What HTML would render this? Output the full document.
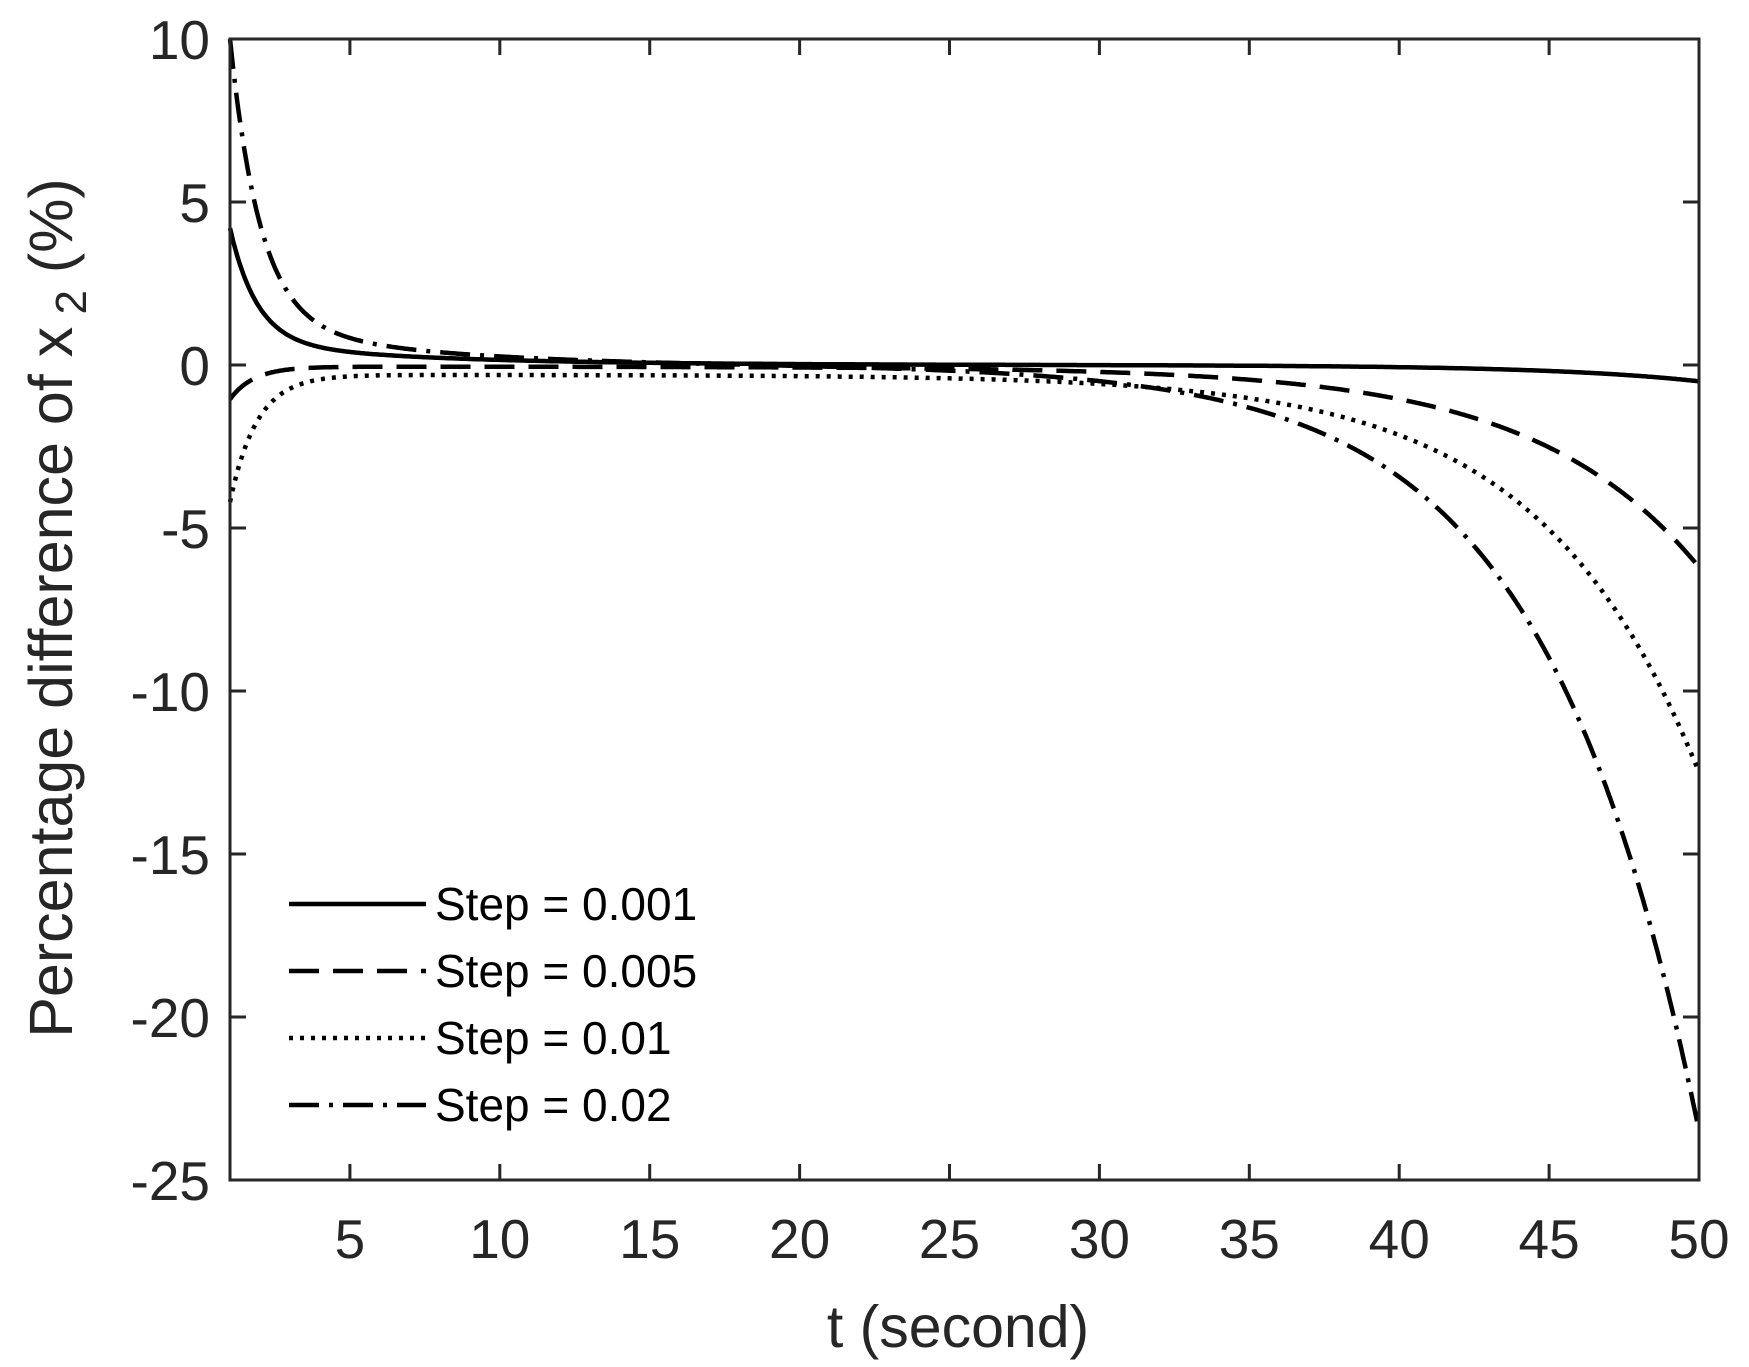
<!DOCTYPE html>
<html><head><meta charset="utf-8"><style>
html,body{margin:0;padding:0;background:#fff;}
svg{display:block;font-family:"Liberation Sans",Arial,sans-serif;}
</style></head><body>
<svg id="s" width="1749" height="1367" viewBox="0 0 1749 1367" xmlns="http://www.w3.org/2000/svg">
<rect width="1749" height="1367" fill="#fff"/>
<g id="curves" fill="none" stroke="#000" stroke-width="4.5"></g>
<g id="axes" stroke="#262626" stroke-width="3" fill="none"></g>
<g id="labels" fill="#262626" font-size="55"></g>
<text x="958" y="1347" font-size="59" text-anchor="middle" fill="#262626">t (second)</text>
<text transform="translate(72,608) rotate(-90)" font-size="61" text-anchor="middle" fill="#262626">Percentage difference of x<tspan font-size="44" dy="14"> 2</tspan><tspan dy="-14"> (%)</tspan></text>
<g stroke="#000" stroke-width="4.5">
<line x1="289" y1="904" x2="426" y2="904"/>
<line x1="289" y1="971" x2="426" y2="971" stroke-dasharray="30,14"/>
<line x1="289" y1="1038" x2="426" y2="1038" stroke-dasharray="4,7"/>
<line x1="289" y1="1105" x2="426" y2="1105" stroke-dasharray="30,10,4,10"/>
</g>
<g font-size="46" fill="#000">
<text x="435" y="920">Step = 0.001</text>
<text x="435" y="987">Step = 0.005</text>
<text x="435" y="1054">Step = 0.01</text>
<text x="435" y="1121">Step = 0.02</text>
</g>
</svg>
<script>
var X0=230,X1=1699,Y0=39,Y1=1180;
function sx(t){return X0+(t-1)/49*(X1-X0);}
function sy(v){return Y0+(10-v)/35*(Y1-Y0);}
var ns="http://www.w3.org/2000/svg";
var fs=[
 [function(t){return 3.5*Math.exp(-(t-1)/0.9)+0.7*Math.exp(-(t-1)/6)-0.5*Math.exp((t-50)/5);},""],
 [function(t){return -1.0*Math.exp(-(t-1)/0.8)-0.05-6.15*Math.exp((t-50)/5.5);},"30,14"],
 [function(t){return -3.9*Math.exp(-(t-1)/0.9)-0.3-12.2*Math.exp((t-50)/5.3);},"4,7"],
 [function(t){return 8.6*Math.exp(-(t-1)/1.0)+1.4*Math.exp(-(t-1)/5.5)-23.5*Math.exp((t-50)/5.2);},"30,10,4,10"]
];
var g=document.getElementById("curves");
fs.forEach(function(f){
 var d="";
 for(var i=0;i<=1000;i++){var t=1+49*i/1000;d+=(i?"L":"M")+sx(t).toFixed(1)+","+sy(f[0](t)).toFixed(1);}
 var p=document.createElementNS(ns,"path");p.setAttribute("d",d);
 if(f[1])p.setAttribute("stroke-dasharray",f[1]);g.appendChild(p);
});
var a=document.getElementById("axes"),L=document.getElementById("labels");
function line(x1,y1,x2,y2){var l=document.createElementNS(ns,"line");l.setAttribute("x1",x1);l.setAttribute("y1",y1);l.setAttribute("x2",x2);l.setAttribute("y2",y2);a.appendChild(l);}
function txt(x,y,s,anc){var t=document.createElementNS(ns,"text");t.setAttribute("x",x);t.setAttribute("y",y);t.setAttribute("text-anchor",anc);t.textContent=s;L.appendChild(t);}
var r=document.createElementNS(ns,"rect");r.setAttribute("x",X0);r.setAttribute("y",Y0);r.setAttribute("width",X1-X0);r.setAttribute("height",Y1-Y0);a.appendChild(r);
for(var t=5;t<=50;t+=5){var x=sx(t);line(x,Y1,x,Y1-16);line(x,Y0,x,Y0+16);txt(x,1258,String(t),"middle");}
for(var v=-25;v<=10;v+=5){var y=sy(v);line(X0,y,X0+16,y);line(X1,y,X1-16,y);txt(210,y+20,String(v),"end");}
</script>
</body></html>
